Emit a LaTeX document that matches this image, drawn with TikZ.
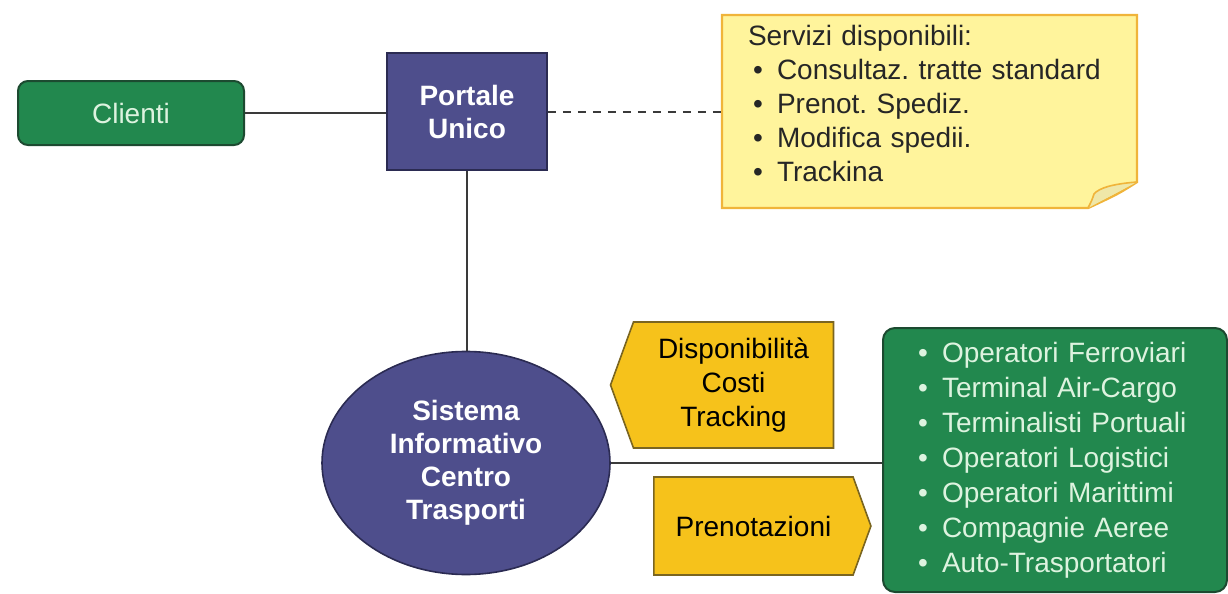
\documentclass[tikz,border=0pt]{standalone}
\usepackage{fontspec}
\setmainfont{Liberation Sans}
\usepackage{tikz}
\usetikzlibrary{positioning, shapes.geometric, shapes.symbols, backgrounds}
\definecolor{verdeclienti}{HTML}{22884E}
\definecolor{verdebordo}{HTML}{1C4A30}
\definecolor{verdetesto}{HTML}{DDF3DF}
\definecolor{viola}{HTML}{4E4E8C}
\definecolor{violabordo}{HTML}{2B2B52}
\definecolor{notagiallo}{HTML}{FFF49C}
\definecolor{notabordo}{HTML}{F0B43A}
\definecolor{notapiega}{HTML}{EFE7A8}
\definecolor{oro}{HTML}{F6C21B}
\definecolor{orobordo}{HTML}{7A6520}
\definecolor{linea}{HTML}{3A3A3A}
\newcommand{\punto}{\makebox[12pt][l]{\textbullet}}
\frenchspacing

\begin{document}
\begin{tikzpicture}[x=0.5pt, y=-0.5pt,
    every node/.style={font=\fontsize{14}{17}\selectfont},
    verde/.style={fill=verdeclienti, draw=verdebordo, line width=1pt, rounded corners=5pt, text=verdetesto},
    blu/.style={fill=viola, draw=violabordo, line width=0.8pt, text=white,
                font=\fontsize{14}{16.5}\selectfont\bfseries, align=center},
    freccia/.style={shape=signal, fill=oro, draw=orobordo, line width=0.8pt, align=center,
                    signal pointer angle=140},
    conn/.style={draw=linea, line width=1pt}]
  \useasboundingbox (0,0) rectangle (1228,594);

  \node[verde, minimum width=113pt, minimum height=32pt] (clienti) at (131,113) {Clienti};
  \node[blu, minimum width=80pt, minimum height=58.5pt] (portale) at (467,111.5) {Portale\\Unico};

  \node[text=black!85, align=left, text width=181.5pt, inner xsep=13pt, minimum width=207.5pt]
    (servizi) at (929.5,103) {Servizi disponibili:\\
      \hspace*{2.5pt}\punto Consultaz. tratte standard\\
      \hspace*{2.5pt}\punto Prenot. Spediz.\\
      \hspace*{2.5pt}\punto Modifica spedii.\\
      \hspace*{2.5pt}\punto Trackina};
  \begin{scope}[on background layer]
    \draw[fill=notagiallo, draw=notabordo, line width=1.2pt]
      (722,15) -- (1137,15) -- (1137,182) .. controls (1118,194) .. (1088,208) -- (722,208) -- cycle;
    \draw[fill=notapiega, draw=notabordo, line width=0.8pt]
      (1137,182) .. controls (1112,184) and (1099,188) .. (1094,194) .. controls (1092,200) .. (1088,208);
  \end{scope}

  \node[blu, ellipse, inner sep=0pt, minimum width=144pt, minimum height=111.5pt] (sistema) at (466,463)
    {Sistema\\Informativo\\Centro\\Trasporti};

  \node[freccia, signal to=west, minimum width=111.5pt, minimum height=63pt] (disponibilita) at (733.5,385)
    {Disponibilità\\Costi\\Tracking};
  \node[freccia, signal to=east, minimum width=108.5pt, minimum height=49pt] (prenotazioni) at (753.5,526)
    {Prenotazioni};

  \node[verde, rounded corners=6pt, minimum width=172pt, minimum height=132pt, text width=137pt,
        inner xsep=17.5pt, align=left, font=\fontsize{14}{17.5}\selectfont] (operatori) at (1055,460)
    {\punto Operatori Ferroviari\\
     \punto Terminal Air-Cargo\\
     \punto Terminalisti Portuali\\
     \punto Operatori Logistici\\
     \punto Operatori Marittimi\\
     \punto Compagnie Aeree\\
     \punto Auto-Trasportatori};

  \draw[conn] (clienti.east) -- (clienti.east -| portale.west);
  \draw[conn, dash pattern=on 4pt off 3.5pt] (portale.east) -- (portale.east -| servizi.west);
  \draw[conn] (portale.south) -- (portale.south |- sistema.north);
  \draw[conn] (sistema.east) -- (sistema.east -| operatori.west);
\end{tikzpicture}
\end{document}
